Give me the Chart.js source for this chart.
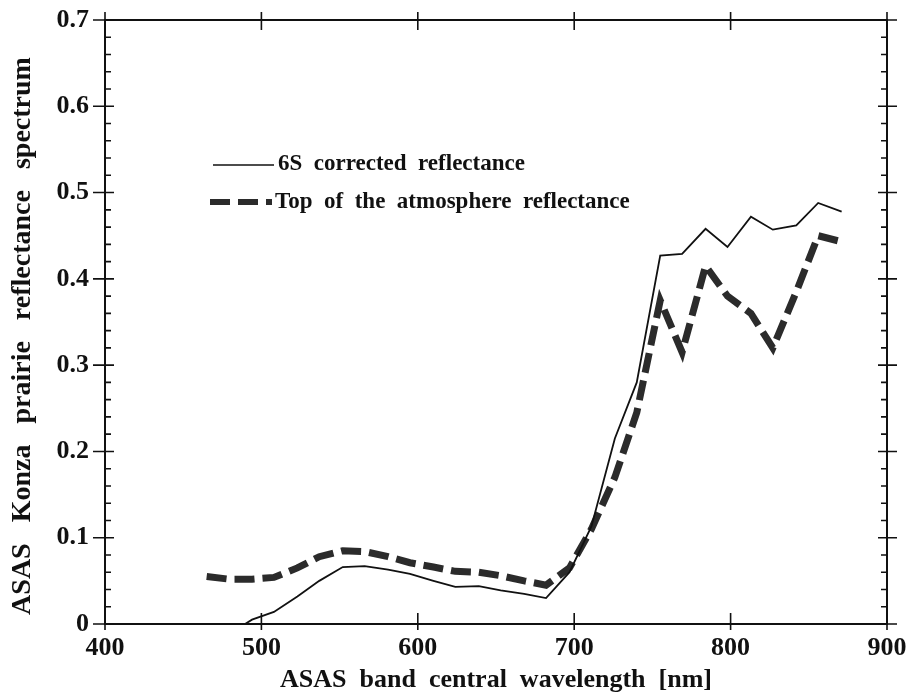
<!DOCTYPE html>
<html>
<head>
<meta charset="utf-8">
<script src="https://cdn.jsdelivr.net/npm/chart.js@4"></script>
<style>
  html, body { margin: 0; padding: 0; background: #fff; }
  #wrap { width: 909px; height: 700px; }
</style>
</head>
<body>
<div id="wrap"><canvas id="reflChart" width="909" height="700"></canvas></div>
<script>
// ASAS band centres (nm)
const wavelengths = [465, 479, 494, 508, 523, 537, 552, 566, 581, 595, 610, 624, 639, 653, 668,
                     682, 697, 711, 726, 740, 755, 769, 784, 798, 813, 827, 842, 856, 871];
// 6S corrected reflectance
const corrected = [-0.03, -0.012, 0.005, 0.014, 0.032, 0.05, 0.066, 0.067, 0.063, 0.058, 0.05,
                   0.043, 0.044, 0.039, 0.035, 0.030, 0.06, 0.113, 0.215, 0.28, 0.427, 0.429,
                   0.458, 0.437, 0.472, 0.457, 0.462, 0.488, 0.478];
// top of the atmosphere reflectance
const toa = [0.055, 0.052, 0.052, 0.054, 0.065, 0.078, 0.085, 0.084, 0.078, 0.071, 0.066,
             0.061, 0.060, 0.056, 0.050, 0.045, 0.065, 0.11, 0.17, 0.245, 0.375, 0.315,
             0.415, 0.38, 0.36, 0.32, 0.385, 0.45, 0.443];
const xTicks = [400, 500, 600, 700, 800, 900];
const yTicks = [0, 0.1, 0.2, 0.3, 0.4, 0.5, 0.6, 0.7];
const legendLabels = ['6S  corrected  reflectance', 'Top  of  the  atmosphere  reflectance'];

const serif = '"Liberation Serif", "Times New Roman", serif';
const ink = '#111';

// box, mirrored ticks and the in-plot legend
const framePlugin = {
  id: 'frame',
  afterDraw(chart) {
    const ctx = chart.ctx;
    const { left, right, top, bottom } = chart.chartArea;
    const xs = chart.scales.x, ys = chart.scales.y;
    ctx.save();
    ctx.strokeStyle = ink;
    ctx.lineWidth = 2;
    ctx.strokeRect(left, top, right - left, bottom - top);

    ctx.lineWidth = 1.6;
    ctx.beginPath();
    for (let i = 0; i <= 35; i++) {
      const py = ys.getPixelForValue(i * 0.02);
      if (i % 5 === 0) {
        ctx.moveTo(left - 12, py); ctx.lineTo(left + 9, py);
        ctx.moveTo(right - 9, py); ctx.lineTo(right + 10, py);
      } else {
        ctx.moveTo(left, py); ctx.lineTo(left + 6, py);
        ctx.moveTo(right - 6, py); ctx.lineTo(right, py);
      }
    }
    xTicks.forEach(v => {
      const px = xs.getPixelForValue(v);
      ctx.moveTo(px, bottom - 11); ctx.lineTo(px, bottom + 6);
      ctx.moveTo(px, top - 8); ctx.lineTo(px, top + 10);
    });
    ctx.stroke();

    // legend
    ctx.font = 'bold 23px ' + serif;
    ctx.fillStyle = ink;
    ctx.textBaseline = 'middle';
    ctx.lineWidth = 1.6;
    ctx.beginPath();
    ctx.moveTo(213, 165); ctx.lineTo(274, 165);
    ctx.stroke();
    ctx.fillText(legendLabels[0], 278, 164);

    ctx.strokeStyle = '#2b2b2b';
    ctx.lineWidth = 6;
    ctx.setLineDash([20, 8]);
    ctx.beginPath();
    ctx.moveTo(210, 202); ctx.lineTo(272, 202);
    ctx.stroke();
    ctx.setLineDash([]);
    ctx.fillText(legendLabels[1], 275, 202);
    ctx.restore();
  }
};

new Chart(document.getElementById('reflChart'), {
  type: 'line',
  data: {
    datasets: [
      {
        label: legendLabels[0],
        data: wavelengths.map((w, i) => ({ x: w, y: corrected[i] })),
        borderColor: ink,
        borderWidth: 1.8,
        pointRadius: 0,
        tension: 0,
        clip: 0
      },
      {
        label: legendLabels[1],
        data: wavelengths.map((w, i) => ({ x: w, y: toa[i] })),
        borderColor: '#2b2b2b',
        borderWidth: 7,
        borderDash: [20, 8],
        borderCapStyle: 'butt',
        pointRadius: 0,
        tension: 0
      }
    ]
  },
  options: {
    responsive: false,
    animation: false,
    layout: { padding: { top: 20, right: 22, left: 0, bottom: 0 } },
    plugins: { legend: { display: false }, tooltip: { enabled: false } },
    scales: {
      x: {
        type: 'linear',
        min: 400, max: 900,
        afterFit: s => { s.height = 76; s.paddingLeft = 0; s.paddingRight = 0; },
        afterBuildTicks: s => { s.ticks = xTicks.map(v => ({ value: v })); },
        grid: { display: false },
        border: { display: false },
        ticks: { color: ink, font: { family: serif, size: 26, weight: 'bold' }, padding: 1, maxRotation: 0 },
        title: {
          display: true,
          text: 'ASAS  band  central  wavelength  [nm]',
          color: ink,
          font: { family: serif, size: 26, weight: 'bold' },
          padding: 4
        }
      },
      y: {
        min: 0, max: 0.7,
        afterFit: s => { s.width = 105; s.paddingTop = 0; s.paddingBottom = 0; },
        afterBuildTicks: s => { s.ticks = yTicks.map(v => ({ value: v })); },
        grid: { display: false },
        border: { display: false },
        ticks: {
          color: ink,
          font: { family: serif, size: 26, weight: 'bold' },
          padding: 8,
          callback: v => v === 0 ? '0' : v.toFixed(1)
        },
        title: {
          display: true,
          text: 'ASAS   Konza   prairie   reflectance   spectrum    ',
          color: ink,
          font: { family: serif, size: 28, weight: 'bold' },
          padding: 6
        }
      }
    }
  },
  plugins: [framePlugin]
});
</script>
</body>
</html>
